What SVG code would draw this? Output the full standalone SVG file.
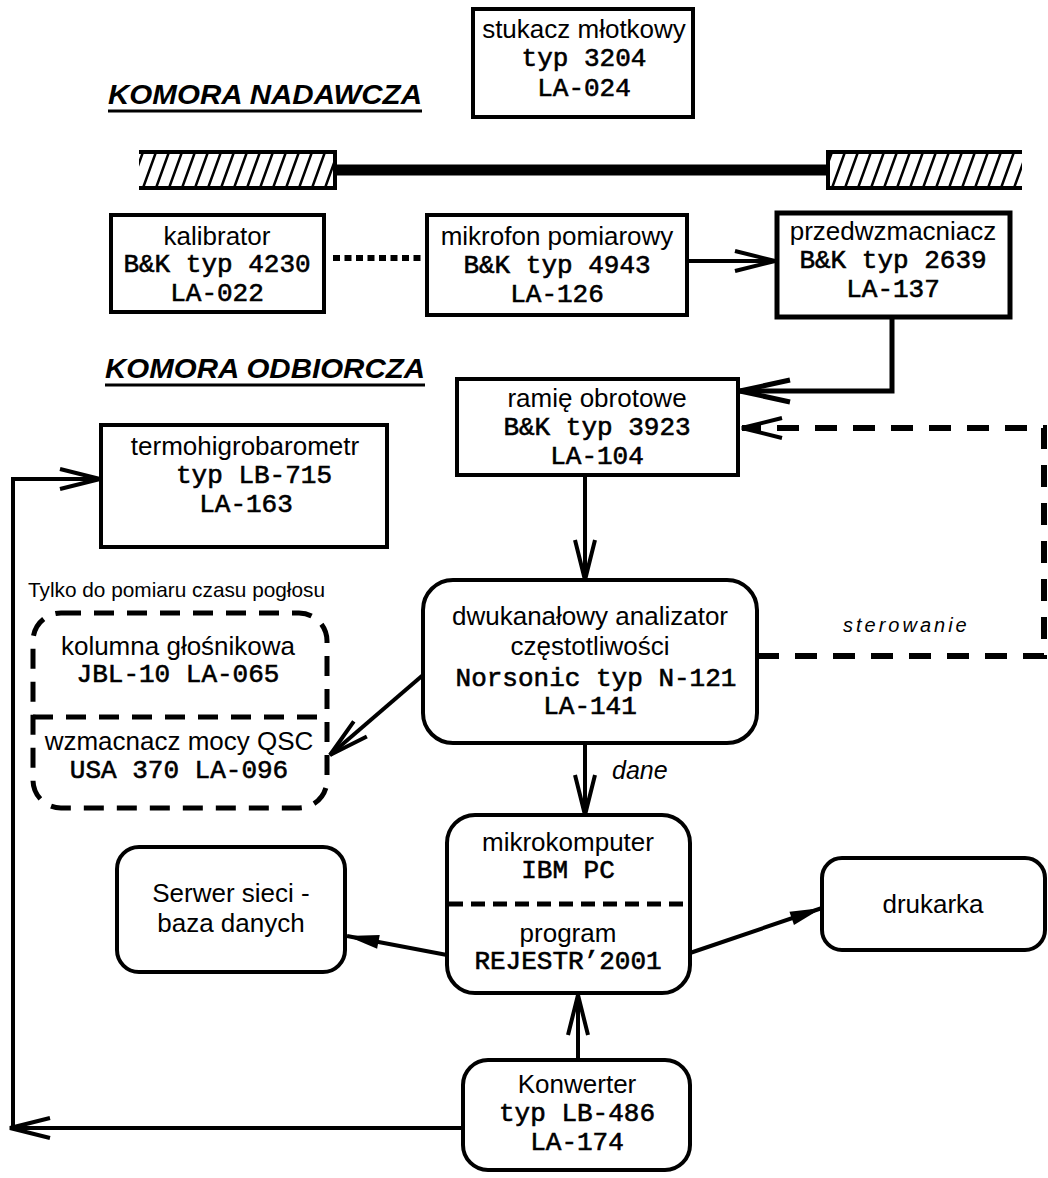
<svg xmlns="http://www.w3.org/2000/svg" width="1048" height="1178" viewBox="0 0 1048 1178">
<style>
.s{font-family:"Liberation Sans",Arial,sans-serif;font-size:26px;text-anchor:middle;fill:#000}
.m{font-family:"Liberation Mono","Courier New",monospace;font-size:26px;text-anchor:middle;fill:#000;stroke:#000;stroke-width:0.6}
.h{font-family:"Liberation Sans",Arial,sans-serif;font-size:28px;font-weight:bold;font-style:italic;fill:#000}
.i{font-family:"Liberation Sans",Arial,sans-serif;font-style:italic;fill:#000}
.n{font-family:"Liberation Sans",Arial,sans-serif;fill:#000}
.box{fill:#fff;stroke:#000;stroke-width:4}
.ln{fill:none;stroke:#000;stroke-width:4}
.dash{fill:none;stroke:#000;stroke-width:6;stroke-dasharray:22 16}
</style>
<defs>
<pattern id="hatch" patternUnits="userSpaceOnUse" x="0" y="152" width="13" height="36">
<path d="M-13,36 L0,0 M0,36 L13,0 M13,36 L26,0" stroke="#000" stroke-width="2.5"/>
</pattern>
<marker id="vo" markerUnits="userSpaceOnUse" markerWidth="60" markerHeight="40" refX="40" refY="10" orient="auto" overflow="visible">
<path d="M0,0 L40,10 L0,20" fill="none" stroke="#000" stroke-width="4"/>
</marker>
<marker id="vb" markerUnits="userSpaceOnUse" markerWidth="60" markerHeight="40" refX="50" refY="11" orient="auto" overflow="visible">
<path d="M0,0 L50,11 L0,22" fill="none" stroke="#000" stroke-width="5"/>
</marker>
<marker id="tri" markerUnits="userSpaceOnUse" markerWidth="40" markerHeight="20" refX="32" refY="7" orient="auto" overflow="visible">
<path d="M0,0 L32,7 L0,14 Z" fill="#000"/>
</marker>
</defs>
<rect width="1048" height="1178" fill="#fff"/>

<g id="labels">
<text class="h" x="108" y="104" textLength="314" lengthAdjust="spacingAndGlyphs">KOMORA NADAWCZA</text>
<line x1="108" y1="111" x2="422" y2="111" stroke="#000" stroke-width="3"/>
<text class="h" x="105" y="378" textLength="320" lengthAdjust="spacingAndGlyphs">KOMORA ODBIORCZA</text>
<line x1="105" y1="385" x2="425" y2="385" stroke="#000" stroke-width="3"/>
<text class="n" x="28" y="597" font-size="21" textLength="297" lengthAdjust="spacingAndGlyphs">Tylko do pomiaru czasu pogłosu</text>
<text class="i" x="843" y="632" font-size="20" letter-spacing="3">sterowanie</text>
<text class="i" x="612" y="779" font-size="25">dane</text>
</g>

<g id="wall">
<rect x="139" y="152" width="196" height="36" fill="url(#hatch)"/>
<path d="M139,152 H335 V188 H139" fill="none" stroke="#000" stroke-width="4"/>
<line x1="335" y1="170" x2="828" y2="170" stroke="#000" stroke-width="11"/>
<rect x="828" y="152" width="194" height="36" fill="url(#hatch)"/>
<path d="M1022,152 H828 V188 H1022" fill="none" stroke="#000" stroke-width="4"/>
</g>

<g id="connectors">
<path d="M333,258 H425" fill="none" stroke="#000" stroke-width="6" stroke-dasharray="7 4.5"/>
<path class="ln" d="M687,261 H775" marker-end="url(#vo)"/>
<path d="M892,317 V391 H740" fill="none" stroke="#000" stroke-width="5" marker-end="url(#vb)"/>
<path class="dash" d="M757,656 H1044 V428 H742" marker-end="url(#vo)"/>
<path class="ln" d="M585,475 V580" marker-end="url(#vo)"/>
<path class="ln" d="M423,675 L330,755" marker-end="url(#vo)"/>
<path class="ln" d="M585,743 V815" marker-end="url(#vo)"/>
<path class="ln" d="M447,955 L347,936" marker-end="url(#tri)"/>
<path class="ln" d="M690,953 L822,908" marker-end="url(#tri)"/>
<path class="ln" d="M578,1060 V995" marker-end="url(#vo)"/>
<path class="ln" d="M463,1128 H10" marker-end="url(#vo)"/>
<path class="ln" d="M13,1128 V479 H100" marker-end="url(#vo)"/>
</g>

<g id="stukacz">
<rect class="box" x="473" y="9" width="220" height="108"/>
<text class="s" x="584" y="38">stukacz młotkowy</text>
<text class="m" x="584" y="66">typ 3204</text>
<text class="m" x="584" y="96">LA-024</text>
</g>

<g id="kalibrator">
<rect class="box" x="111" y="215" width="213" height="97"/>
<text class="s" x="217" y="245">kalibrator</text>
<text class="m" x="217" y="272">B&amp;K typ 4230</text>
<text class="m" x="217" y="301">LA-022</text>
</g>

<g id="mikrofon">
<rect class="box" x="427" y="215" width="260" height="100"/>
<text class="s" x="557" y="245">mikrofon pomiarowy</text>
<text class="m" x="557" y="273">B&amp;K typ 4943</text>
<text class="m" x="557" y="302">LA-126</text>
</g>

<g id="przedwzmacniacz">
<rect class="box" x="777" y="213" width="233" height="104" style="stroke-width:5"/>
<text class="s" x="893" y="240">przedwzmacniacz</text>
<text class="m" x="893" y="268">B&amp;K typ 2639</text>
<text class="m" x="893" y="297">LA-137</text>
</g>

<g id="ramie">
<rect class="box" x="457" y="379" width="281" height="96"/>
<text class="s" x="597" y="407">ramię obrotowe</text>
<text class="m" x="597" y="435">B&amp;K typ 3923</text>
<text class="m" x="597" y="464">LA-104</text>
</g>

<g id="termohigrobarometr">
<rect class="box" x="101" y="425" width="286" height="122"/>
<text class="s" x="245" y="455">termohigrobarometr</text>
<text class="m" x="254" y="483">typ LB-715</text>
<text class="m" x="246" y="512">LA-163</text>
</g>

<g id="glosnik">
<rect x="33" y="613" width="294" height="195" rx="28" fill="none" stroke="#000" stroke-width="5" stroke-dasharray="20 13"/>
<line x1="33" y1="717" x2="327" y2="717" stroke="#000" stroke-width="5" stroke-dasharray="20 13"/>
<text class="s" x="178" y="655">kolumna głośnikowa</text>
<text class="m" x="178" y="682">JBL-10 LA-065</text>
<text class="s" x="179" y="750">wzmacnacz mocy QSC</text>
<text class="m" x="179" y="778">USA 370 LA-096</text>
</g>

<g id="analizator">
<rect class="box" x="423" y="580" width="334" height="163" rx="30"/>
<text class="s" x="590" y="625">dwukanałowy analizator</text>
<text class="s" x="590" y="655">częstotliwości</text>
<text class="m" x="596" y="686">Norsonic typ N-121</text>
<text class="m" x="590" y="714">LA-141</text>
</g>

<g id="mikrokomputer">
<rect class="box" x="447" y="815" width="243" height="178" rx="28"/>
<line x1="449" y1="904" x2="688" y2="904" stroke="#000" stroke-width="5" stroke-dasharray="14 8"/>
<text class="s" x="568" y="851">mikrokomputer</text>
<text class="m" x="568" y="878">IBM PC</text>
<text class="s" x="568" y="942">program</text>
<text class="m" x="568" y="969">REJESTR’2001</text>
</g>

<g id="serwer">
<rect class="box" x="117" y="847" width="228" height="125" rx="22"/>
<text class="s" x="231" y="902">Serwer sieci -</text>
<text class="s" x="231" y="932">baza danych</text>
</g>

<g id="drukarka">
<rect class="box" x="822" y="858" width="223" height="92" rx="20"/>
<text class="s" x="933" y="913">drukarka</text>
</g>

<g id="konwerter">
<rect class="box" x="463" y="1060" width="227" height="110" rx="25"/>
<text class="s" x="577" y="1093">Konwerter</text>
<text class="m" x="577" y="1121">typ LB-486</text>
<text class="m" x="577" y="1150">LA-174</text>
</g>
</svg>
